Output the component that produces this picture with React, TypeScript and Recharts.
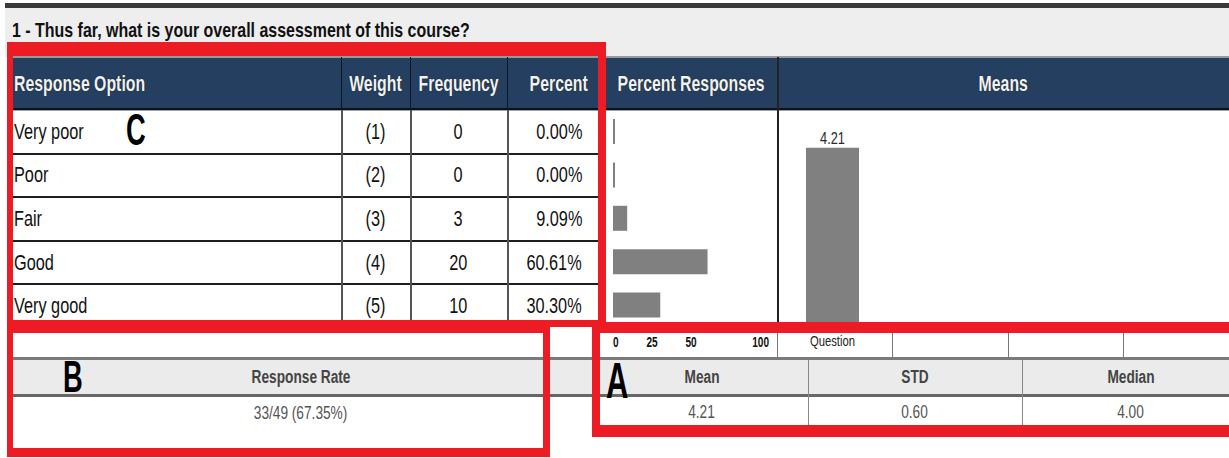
import React from "react";
import { BarChart, Bar, XAxis, YAxis, LabelList } from "recharts";

const question = "1 - Thus far, what is your overall assessment of this course?";
const headers = ["Response Option", "Weight", "Frequency", "Percent"];
const options = ["Very poor", "Poor", "Fair", "Good", "Very good"];
const weights = ["(1)", "(2)", "(3)", "(4)", "(5)"];
const frequencies = [0, 0, 3, 20, 10];
const percents = [0, 0, 9.09, 60.61, 30.3];
const percentTicks = [0, 25, 50, 100];
const meanCategories = ["Question"];
const meanValues = [4.21];
const statLabels = ["Mean", "STD", "Median"];
const statValues = ["4.21", "0.60", "4.00"];
const responseRate = "33/49 (67.35%)";

const RED = "#ed1c24";
const NAVY = "#243f5f";
const BAR = "#808080";
const FONT = "'Liberation Sans', Arial, sans-serif";
// no narrow face installed, so squeeze the regular one
const NARROW = 0.8;

// column edges of the left table, then the two chart columns
const COLS = [12, 341, 410, 507, 598];
const PR_LEFT = 605;
const MEANS_LEFT = 777;
const RIGHT = 1229;
const HEAD_TOP = 57;
const ROW_TOP = 110;
const ROW_H = 43.6;

const percentData = options.map((o, i) => ({ option: o, percent: percents[i] }));
const meanData = meanCategories.map((c, i) => ({ name: c, mean: meanValues[i] }));

function Txt({ x, y, w, h, align = "center", sx = NARROW, style, children }: any) {
  const origin = align === "left" ? "left center" : align === "right" ? "right center" : "center center";
  return (
    <div
      style={{
        position: "absolute",
        left: x,
        top: y,
        width: w,
        height: h,
        display: "flex",
        alignItems: "center",
        justifyContent: align === "left" ? "flex-start" : align === "right" ? "flex-end" : "center",
        whiteSpace: "nowrap",
        ...style,
      }}
    >
      <span style={{ display: "inline-block", transform: `scaleX(${sx})`, transformOrigin: origin }}>
        {children}
      </span>
    </div>
  );
}

const HLine = ({ x1, x2, y, t = 1, c = "#333" }: any) => (
  <div style={{ position: "absolute", left: x1, top: y, width: x2 - x1, height: t, background: c }} />
);
const VLine = ({ x, y1, y2, t = 1, c = "#333" }: any) => (
  <div style={{ position: "absolute", left: x, top: y1, width: t, height: y2 - y1, background: c }} />
);

// red annotation frame, each side its own width like the hand-drawn marks
const Frame = ({ x, y, w, h, b }: any) => (
  <div
    style={{
      position: "absolute",
      left: x,
      top: y,
      width: w,
      height: h,
      boxSizing: "border-box",
      borderStyle: "solid",
      borderColor: RED,
      borderWidth: b,
      zIndex: 10,
    }}
  />
);

const Letter = ({ x, y, size, children }: any) => (
  <div
    style={{
      position: "absolute",
      left: x,
      top: y,
      fontSize: size,
      lineHeight: `${size}px`,
      fontWeight: "bold",
      color: "#000",
      transform: "scaleX(0.62)",
      transformOrigin: "left top",
      zIndex: 11,
    }}
  >
    {children}
  </div>
);

function PercentTick(props: any) {
  const { x, y, payload, index } = props;
  const anchor = index === 0 ? "start" : index === percentTicks.length - 1 ? "end" : "middle";
  return (
    <text
      transform={`translate(${x},${y}) scale(0.72,1)`}
      dy="0.71em"
      textAnchor={anchor}
      fontSize={14}
      fontWeight="bold"
      fill="#111"
    >
      {payload.value}
    </text>
  );
}

function CategoryTick(props: any) {
  const { x, y, payload } = props;
  return (
    <text transform={`translate(${x},${y}) scale(0.75,1)`} dy="0.71em" textAnchor="middle" fontSize={15} fill="#222">
      {payload.value}
    </text>
  );
}

function MeanLabel(props: any) {
  const { x, y, width, value } = props;
  return (
    <text transform={`translate(${x + width / 2},${y - 4}) scale(0.75,1)`} textAnchor="middle" fontSize={17} fill="#2a2a2a">
      {value}
    </text>
  );
}

export default function App() {
  const headStyle = {
    color: "#f2f2f2",
    fontWeight: "bold",
    fontSize: 22,
    textShadow: "0 0 1px #000",
  };
  const bodyStyle = { color: "#111", fontSize: 22 };
  const rowTop = (i: number) => ROW_TOP + i * ROW_H;
  const statHead = { fontSize: 18, fontWeight: "bold", color: "#444" };
  const statBody = { fontSize: 18, color: "#555" };

  return (
    <div
      style={{
        position: "fixed",
        left: 0,
        top: 0,
        width: 1229,
        height: 458,
        background: "#fff",
        overflow: "hidden",
        fontFamily: FONT,
      }}
    >
      {/* title band */}
      <HLine x1={5} x2={RIGHT} y={3} t={5} c="#3a3a3a" />
      <div style={{ position: "absolute", left: 5, top: 8, width: RIGHT - 5, height: HEAD_TOP - 8, background: "#eeeeee" }} />
      <Txt x={12} y={19} w={600} h={22} align="left" sx={0.76} style={{ fontSize: 21, fontWeight: "bold", color: "#111" }}>
        {question}
      </Txt>

      {/* header row */}
      <div style={{ position: "absolute", left: 12, top: HEAD_TOP, width: RIGHT - 12, height: ROW_TOP - HEAD_TOP, background: NAVY }} />
      <HLine x1={12} x2={RIGHT} y={HEAD_TOP - 1} t={2} c="#9a9a9a" />
      <HLine x1={12} x2={RIGHT} y={ROW_TOP - 2} t={2} c="#111" />
      <HLine x1={12} x2={RIGHT} y={ROW_TOP} t={1} c="#9aa3ad" />
      {headers.map((h, i) => (
        <Txt
          key={h}
          x={COLS[i] + (i === 0 ? 2 : 0)}
          y={HEAD_TOP}
          w={(COLS[i + 1] ?? COLS[4]) - COLS[i] - (i === 3 ? 10 : 0)}
          h={ROW_TOP - HEAD_TOP}
          align={i === 0 ? "left" : i === 3 ? "right" : "center"}
          sx={0.72}
          style={headStyle}
        >
          {h}
        </Txt>
      ))}
      <Txt x={PR_LEFT} y={HEAD_TOP} w={MEANS_LEFT - PR_LEFT} h={ROW_TOP - HEAD_TOP} sx={0.72} style={headStyle}>
        Percent Responses
      </Txt>
      <Txt x={MEANS_LEFT} y={HEAD_TOP} w={RIGHT - MEANS_LEFT} h={ROW_TOP - HEAD_TOP} sx={0.72} style={headStyle}>
        Means
      </Txt>
      {[COLS[1], COLS[2], COLS[3], COLS[4]].map((x) => (
        <VLine key={x} x={x} y1={HEAD_TOP} y2={ROW_TOP} c="#0c1826" />
      ))}
      <VLine x={MEANS_LEFT} y1={HEAD_TOP} y2={333} t={2} c="#222" />

      {/* body rows */}
      {options.map((o, i) => (
        <React.Fragment key={o}>
          {i > 0 && <HLine x1={12} x2={COLS[4]} y={rowTop(i) - 1} t={2} c="#1e1e1e" />}
          <Txt x={14} y={rowTop(i)} w={COLS[1] - 14} h={ROW_H} align="left" sx={0.74} style={bodyStyle}>
            {o}
          </Txt>
          <Txt x={COLS[1]} y={rowTop(i)} w={COLS[2] - COLS[1]} h={ROW_H} sx={0.74} style={bodyStyle}>
            {weights[i]}
          </Txt>
          <Txt x={COLS[2]} y={rowTop(i)} w={COLS[3] - COLS[2]} h={ROW_H} sx={0.74} style={bodyStyle}>
            {frequencies[i]}
          </Txt>
          <Txt x={COLS[3]} y={rowTop(i)} w={COLS[4] - COLS[3] - 16} h={ROW_H} align="right" sx={0.74} style={bodyStyle}>
            {percents[i].toFixed(2)}%
          </Txt>
        </React.Fragment>
      ))}
      {[COLS[1], COLS[2], COLS[3]].map((x) => (
        <VLine key={x} x={x} y1={ROW_TOP} y2={330} t={2} c="#555" />
      ))}
      <VLine x={COLS[4]} y1={ROW_TOP} y2={330} c="#444" />

      {/* percent responses chart */}
      <div style={{ position: "absolute", left: PR_LEFT, top: ROW_TOP }}>
        <BarChart
          width={MEANS_LEFT - PR_LEFT}
          height={248}
          data={percentData}
          layout="vertical"
          margin={{ top: 0, right: 8, bottom: 0, left: 8 }}
        >
          <XAxis
            type="number"
            domain={[0, 100]}
            ticks={percentTicks}
            axisLine={false}
            tickLine={false}
            height={31}
            tickMargin={4}
            tick={<PercentTick />}
            interval={0}
          />
          <YAxis type="category" dataKey="option" hide />
          <Bar dataKey="percent" fill={BAR} barSize={25} minPointSize={2} isAnimationActive={false} />
        </BarChart>
      </div>

      {/* means chart */}
      <div style={{ position: "absolute", left: MEANS_LEFT, top: ROW_TOP }}>
        <BarChart width={111} height={248} data={meanData} margin={{ top: 4, right: 0, bottom: 0, left: 0 }}>
          <XAxis dataKey="name" axisLine={false} tickLine={false} height={31} tickMargin={2} tick={<CategoryTick />} />
          <YAxis domain={[0, 5]} hide />
          <Bar dataKey="mean" fill={BAR} barSize={53} isAnimationActive={false}>
            <LabelList dataKey="mean" position="top" content={<MeanLabel />} />
          </Bar>
        </BarChart>
      </div>

      {/* axis / question row */}
      {[MEANS_LEFT, 892, 1008, 1123].map((x) => (
        <VLine key={x} x={x} y1={333} y2={358} c="#777" />
      ))}

      {/* statistics band */}
      <HLine x1={12} x2={RIGHT} y={357} t={3} c="#7a7a7a" />
      <div style={{ position: "absolute", left: 12, top: 360, width: RIGHT - 12, height: 34, background: "#ebebeb" }} />
      <HLine x1={12} x2={RIGHT} y={394} t={3} c="#666" />
      <VLine x={808} y1={360} y2={428} c="#888" />
      <VLine x={1022} y1={360} y2={428} c="#888" />
      <HLine x1={600} x2={RIGHT} y={426} c="#999" />
      <Txt x={12} y={360} w={578} h={34} sx={0.76} style={statHead}>
        Response Rate
      </Txt>
      <Txt x={12} y={397} w={578} h={32} sx={0.76} style={statBody}>
        {responseRate}
      </Txt>
      {statLabels.map((s, i) => {
        const edges = [596, 808, 1022, 1240];
        return (
          <React.Fragment key={s}>
            <Txt x={edges[i]} y={360} w={edges[i + 1] - edges[i]} h={34} sx={0.76} style={statHead}>
              {s}
            </Txt>
            <Txt x={edges[i]} y={397} w={edges[i + 1] - edges[i]} h={30} sx={0.76} style={statBody}>
              {statValues[i]}
            </Txt>
          </React.Fragment>
        );
      })}

      {/* red annotation frames */}
      <Frame x={7} y={42} w={599} h={285} b="14px 8px 7px 6px" />
      <Frame x={7} y={322} w={543} h={135} b="11px 7px 9px 6px" />
      <Frame x={592} y={322} w={660} h={115} b="11px 0 12px 8px" />
      <Letter x={126} y={108} size={44}>C</Letter>
      <Letter x={63} y={355} size={44}>B</Letter>
      <Letter x={606} y={356} size={50}>A</Letter>
    </div>
  );
}
